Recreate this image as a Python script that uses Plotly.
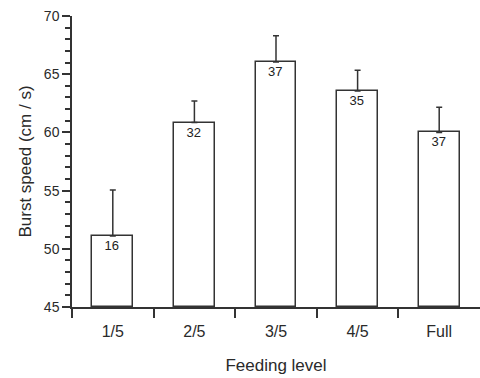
import plotly.graph_objects as go

categories = ["1/5", "2/5", "3/5", "4/5", "Full"]
means = [51.1, 60.85, 66.05, 63.55, 60.0]
errors_up = [3.95, 1.85, 2.25, 1.8, 2.15]
n_labels = ["16", "32", "37", "35", "37"]

xpos = list(range(len(categories)))
ink = "#333333"
font_family = "Liberation Sans, Arial, sans-serif"

fig = go.Figure()
fig.add_trace(go.Bar(
    x=xpos, y=[m - 45 for m in means], base=45,
    width=0.5,
    marker=dict(color="white", line=dict(color=ink, width=1.5)),
    error_y=dict(type="data", symmetric=False, array=errors_up,
                 arrayminus=[0] * len(errors_up),
                 color=ink, thickness=1.5, width=3),
    text=n_labels, textposition="inside", insidetextanchor="end",
    textfont=dict(size=13, color="#222222", family=font_family),
    textangle=0, cliponaxis=False,
))

fig.update_layout(
    width=480, height=378,
    margin=dict(l=72, r=0, t=16, b=71),
    paper_bgcolor="white", plot_bgcolor="white",
    showlegend=False,
    font=dict(family=font_family, color="#2a2a2a"),
    bargap=0,
    xaxis=dict(
        range=[-0.5, 4.5],
        tickvals=xpos, ticktext=categories,
        ticks="outside", ticklen=9, tickcolor="rgba(0,0,0,0)",
        tickfont=dict(size=16),
        showline=True, linecolor=ink, linewidth=1.5,
        showgrid=False, zeroline=False,
        minor=dict(tickvals=[-0.5, 0.5, 1.5, 2.5, 3.5], ticks="outside",
                   ticklen=9, tickcolor=ink, tickwidth=1.5, showgrid=False),
        title=dict(text="Feeding level", font=dict(size=17), standoff=20),
        fixedrange=True,
    ),
    yaxis=dict(
        range=[45, 70],
        tickvals=[45, 50, 55, 60, 65, 70],
        ticks="outside", ticklen=8, tickwidth=1.5, tickcolor=ink,
        tickfont=dict(size=14),
        showline=True, linecolor=ink, linewidth=1.5,
        showgrid=False, zeroline=False,
        minor=dict(dtick=1, tick0=45, ticks="outside", ticklen=5,
                   tickcolor=ink, tickwidth=1.5, showgrid=False),
        title=dict(text="Burst speed (cm / s)", font=dict(size=17), standoff=8),
    ),
)

fig.write_html("out.html")
